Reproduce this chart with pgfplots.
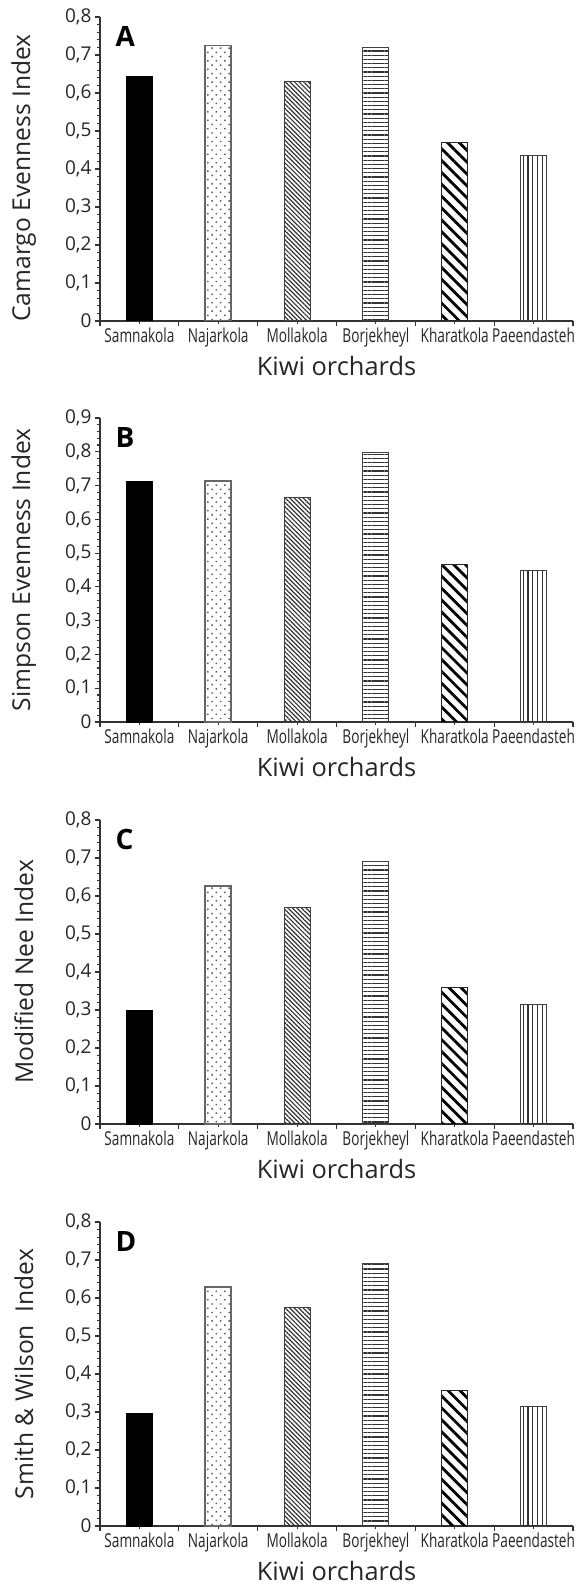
\documentclass[border=0pt]{standalone}
\usepackage{fontspec}
\setmainfont{Open Sans}
\newfontfamily\condfont[FakeStretch=0.71]{Open Sans}
\usepackage{pgfplots}
\pgfplotsset{compat=1.18}
\usetikzlibrary{patterns.meta}

\tikzset{letter/.style={anchor=north west, inner sep=0pt, font=\bfseries\fontsize{14}{14}\selectfont}}

\pgfplotsset{
  panel/.style={
    width=236.5pt, height=152pt, scale only axis,
    xmin=-0.5, xmax=5.5, ymin=0,
    axis x line*=bottom, axis y line*=left,
    axis line style={-, black!80, line width=0.55pt},
    tick style={black!80, line width=0.55pt},
    tick align=outside,
    major tick length=2.3pt, minor tick length=1.4pt,
    xtick={-0.5,0.5,...,5.5}, xticklabels={},
    extra x ticks={0,1,2,3,4,5},
    extra x tick labels={Samnakola,Najarkola,Mollakola,Borjekheyl,Kharatkola,Paeendasteh},
    extra x tick style={major tick length=1.4pt,
      xticklabel style={font=\condfont\fontsize{9.6}{9.6}\selectfont, inner sep=1.8pt, text=black!85}},
    ytick distance=0.1, minor y tick num=4,
    /pgf/number format/assume math mode=true,
    yticklabel style={font=\fontsize{9.5}{9.5}\selectfont, inner sep=1.8pt, text=black!85,
      /pgf/number format/.cd, use comma, fixed, precision=1},
    ylabel style={font=\fontsize{12.3}{12.3}\selectfont, text=black!85,
      at={(axis description cs:-0.161,0.5)}, anchor=center},
    xlabel style={font=\fontsize{12.7}{12.7}\selectfont, text=black!85,
      at={(axis description cs:0.5,0)}, yshift=-22.5pt, anchor=center},
    xlabel={Kiwi orchards},
  },
  sam/.style={ybar, bar width=13pt, fill=black, draw=black, line width=0.5pt},
  naj/.style={ybar, bar width=13pt, draw=black!60, line width=0.9pt,
    pattern={Dots[radius=0.5pt, distance=3pt, angle=45]}, pattern color=black!65},
  mol/.style={ybar, bar width=13pt, draw=black!75, line width=0.5pt,
    pattern={Lines[angle=-45, distance=1.6pt, line width=0.6pt]}, pattern color=black!80},
  bor/.style={ybar, bar width=13pt, draw=black!75, line width=0.5pt,
    pattern={Lines[angle=0, distance=2.1pt, line width=0.6pt]}, pattern color=black!80},
  kha/.style={ybar, bar width=13pt, draw=black!85, line width=0.5pt,
    pattern={Lines[angle=-45, distance=4.2pt, line width=1.4pt]}, pattern color=black},
  pae/.style={ybar, bar width=13pt, draw=black!75, line width=0.5pt,
    pattern={Lines[angle=90, distance=2.4pt, line width=0.6pt]}, pattern color=black!80},
}

\begin{document}
\begin{tikzpicture}
\useasboundingbox (-50pt,-631.5pt) rectangle (240pt,160.5pt);

% A
\begin{axis}[panel, at={(0,0)}, anchor=south west, ymax=0.8,
  ylabel={Camargo Evenness Index}, ylabel style={at={(axis description cs:-0.161,0.47)}}]
\addplot[sam] coordinates {(0,0.643)};
\addplot[naj] coordinates {(1,0.725)};
\addplot[mol] coordinates {(2,0.630)};
\addplot[bor] coordinates {(3,0.721)};
\addplot[kha] coordinates {(4,0.469)};
\addplot[pae] coordinates {(5,0.435)};
\node[letter] at (rel axis cs:0.032,0.97) {A};
\end{axis}

% B
\begin{axis}[panel, at={(0,-200.5pt)}, anchor=south west, ymax=0.9,
  ylabel={Simpson Evenness Index}]
\addplot[sam] coordinates {(0,0.711)};
\addplot[naj] coordinates {(1,0.714)};
\addplot[mol] coordinates {(2,0.665)};
\addplot[bor] coordinates {(3,0.799)};
\addplot[kha] coordinates {(4,0.465)};
\addplot[pae] coordinates {(5,0.450)};
\node[letter] at (rel axis cs:0.032,0.97) {B};
\end{axis}

% C
\begin{axis}[panel, at={(0,-401.5pt)}, anchor=south west, ymax=0.8,
  ylabel={Modified Nee Index}]
\addplot[sam] coordinates {(0,0.300)};
\addplot[naj] coordinates {(1,0.627)};
\addplot[mol] coordinates {(2,0.571)};
\addplot[bor] coordinates {(3,0.690)};
\addplot[kha] coordinates {(4,0.359)};
\addplot[pae] coordinates {(5,0.315)};
\node[letter] at (rel axis cs:0.032,0.97) {C};
\end{axis}

% D
\begin{axis}[panel, at={(0,-602.5pt)}, anchor=south west, ymax=0.8,
  ylabel={Smith \& Wilson\ \ Index}]
\addplot[sam] coordinates {(0,0.297)};
\addplot[naj] coordinates {(1,0.629)};
\addplot[mol] coordinates {(2,0.575)};
\addplot[bor] coordinates {(3,0.690)};
\addplot[kha] coordinates {(4,0.357)};
\addplot[pae] coordinates {(5,0.315)};
\node[letter] at (rel axis cs:0.032,0.97) {D};
\end{axis}
\end{tikzpicture}
\end{document}
